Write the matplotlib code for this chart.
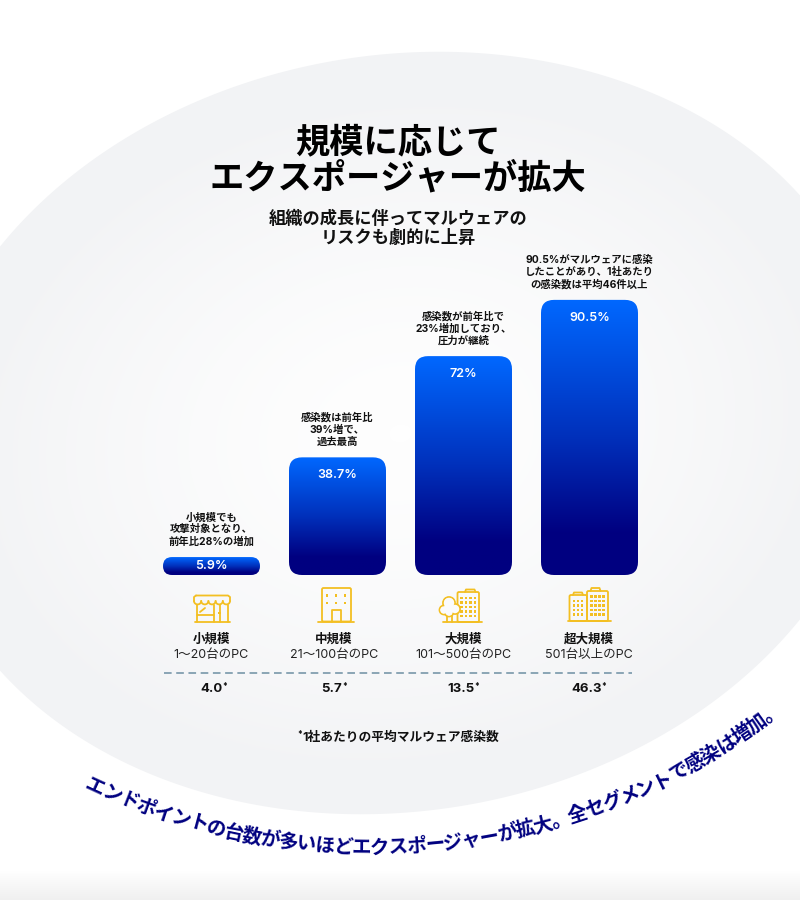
import numpy as np
import matplotlib.pyplot as plt
from matplotlib.colors import LinearSegmentedColormap
from matplotlib.patches import Polygon, FancyBboxPatch, Rectangle, Circle

plt.rcParams['font.family'] = ['Inter', 'Noto Sans CJK JP', 'DejaVu Sans']

# Chart data
segments = ['小規模', '中規模', '大規模', '超大規模']
pc_ranges = ['1～20台のPC', '21～100台のPC', '101～500台のPC', '501台以上のPC']
infected_pct = [5.9, 38.7, 72, 90.5]
pct_labels = ['5.9%', '38.7%', '72%', '90.5%']
avg_infections = ['4.0', '5.7', '13.5', '46.3']
notes = [
    '小規模でも\n攻撃対象となり、\n前年比28%の増加',
    '感染数は前年比\n39%増で、\n過去最高',
    '感染数が前年比で\n23%増加しており、\n圧力が継続',
    '90.5%がマルウェアに感染\nしたことがあり、1社あたり\nの感染数は平均46件以上',
]
title = '規模に応じて\nエクスポージャーが拡大'
subtitle = '組織の成長に伴ってマルウェアの\nリスクも劇的に上昇'
footnote = '1社あたりの平均マルウェア感染数'
curve_text = 'エンドポイントの台数が多いほどエクスポージャーが拡大。全セグメントで感染は増加。'

NAVY = '#000080'
YELLOW = '#f3bf22'

fig = plt.figure(figsize=(8, 9), dpi=100, facecolor='white')

# Pixel axes for the background, icons and text
deco = fig.add_axes([0, 0, 1, 1], zorder=0)
deco.axis('off')

# Background blob: a slightly tilted ellipse with soft radial shading
yy, xx = np.mgrid[0:900, 0:800]
dist = np.sqrt(((xx - 400) / 482) ** 2 + ((yy - 433 + 0.064 * (xx - 400)) / 380) ** 2)
shade = np.clip(dist * 1.1, 0, 1) ** 1.5
bg_cmap = LinearSegmentedColormap.from_list('bg', ['#fefefe', '#f2f3f5'])
t = np.linspace(0, 2 * np.pi, 400)
blob = Polygon(np.column_stack([400 + 482 * np.cos(t),
                                433 + 380 * np.sin(t) - 0.064 * 482 * np.cos(t)]),
               facecolor='none', edgecolor='none')
deco.add_patch(blob)
im = deco.imshow(shade, extent=[0, 800, 900, 0], cmap=bg_cmap, vmin=0, vmax=1, aspect='auto')
im.set_clip_path(blob)

# Grey fade at the very bottom
fade = np.linspace(0, 1, 30).reshape(-1, 1)
fade_cmap = LinearSegmentedColormap.from_list('fade', ['#ffffff', '#f0f0f0'])
deco.imshow(fade, extent=[0, 800, 900, 870], cmap=fade_cmap, aspect='auto')
deco.set_xlim(0, 800)
deco.set_ylim(900, 0)

# Bars: one category step is 126 px, one percent is 3.04 px, baseline at y=575
ax = fig.add_axes([0, 0, 1, 1], zorder=1)
ax.patch.set_alpha(0)
ax.axis('off')
step_px = 126
pct_px = 3.04
bar_w = 97 / step_px
bar_cmap = LinearSegmentedColormap.from_list(
    'bar', [(0, '#0068ff'), (0.5, '#0030bb'), (0.85, NAVY), (1, NAVY)], N=256)
gradient = np.linspace(0, 1, 256).reshape(-1, 1)

for i, v in enumerate(infected_pct):
    h_px = v * pct_px
    radius_px = min(13, h_px / 2)
    bar = FancyBboxPatch((i - bar_w / 2, 0), bar_w, v,
                         boxstyle=f'round,pad=0,rounding_size={radius_px / step_px}',
                         mutation_aspect=step_px / pct_px,
                         facecolor='none', edgecolor='none')
    ax.add_patch(bar)
    img = ax.imshow(gradient, extent=[i - bar_w / 2, i + bar_w / 2, 0, v],
                    cmap=bar_cmap, aspect='auto', origin='upper')
    img.set_clip_path(bar)

    ax.annotate(pct_labels[i], xy=(i, v), xytext=(0, -min(18, h_px / 2) * 0.72),
                textcoords='offset points', ha='center', va='center',
                color='white', fontsize=9, fontweight='semibold')
    ax.annotate(notes[i], xy=(i, v), xytext=(0, 7.5), textcoords='offset points',
                ha='center', va='bottom', fontsize=7.45, fontweight='bold',
                color='#111111', linespacing=1.22)

ax.set_xlim(-211.5 / step_px, (800 - 211.5) / step_px)
ax.set_ylim(-(900 - 575) / pct_px, 575 / pct_px)


# Icons
def line(xs, ys):
    deco.plot(xs, ys, color=YELLOW, lw=1.3, solid_capstyle='round', zorder=3)


def box(x0, y0, x1, y1, rounded=1.5):
    deco.add_patch(FancyBboxPatch((x0, y0), x1 - x0, y1 - y0,
                                  boxstyle=f'round,pad=0,rounding_size={rounded}',
                                  facecolor='none', edgecolor=YELLOW, lw=1.3, zorder=3))


def dots(xs, ys, size=2.4):
    for x in xs:
        for y in ys:
            deco.add_patch(Rectangle((x - size / 2, y - size / 2), size, size,
                                     facecolor=YELLOW, edgecolor='none', zorder=3))


# shop
line([196, 228, 230, 230], [595.5, 595.5, 597, 601])
line([196, 194, 194], [595.5, 597, 601])
arc = np.linspace(0, np.pi, 20)
for cx in np.linspace(197.6, 226.4, 5):
    line(cx + 3.6 * np.cos(arc), 601 + 3.4 * np.sin(arc))
line([196.5, 196.5], [605, 621.5])
line([227.5, 227.5], [605, 621.5])
line([194.5, 229.5], [621.5, 621.5])
line([213.5, 213.5], [605, 621.5])
line([196.5, 213.5], [614.5, 614.5])
line([219.5, 219.5], [605, 621.5])
line([200, 205], [612, 608])
dots([219.5], [613], 2.8)

# office
box(322, 588, 351, 621.5)
line([318, 354], [621.5, 621.5])
dots([327, 336, 345], [595.5, 603])
line([332, 332, 341, 341], [621.5, 610, 610, 621.5])

# tree and tower
box(457.5, 592, 479, 622)
line([465, 466, 474.5, 475.5], [592, 589.5, 589.5, 592])
dots([461.5, 466, 470.5, 475], [598, 602.5, 607, 611.5, 616])
for cx, cy, r in [(449, 603, 6), (444, 610, 4.5), (455, 609, 5), (449, 612, 4.5)]:
    deco.add_patch(Circle((cx, cy), r, facecolor='none', edgecolor=YELLOW, lw=1.3, zorder=3))
for cx, cy, r in [(449, 603, 5.2), (444, 610, 3.7), (455, 609, 4.2), (449, 612, 3.7), (449, 608, 5)]:
    deco.add_patch(Circle((cx, cy), r, facecolor='#fbfbfc', edgecolor='none', zorder=4))
line([447, 447], [616, 622])
line([451.5, 451.5], [616, 622])
line([443, 482], [622, 622])

# two towers
box(587, 591, 608, 621)
line([590.5, 591.5, 599.5, 600.5], [591, 588, 588, 591])
dots([591.5, 595.5, 599.5, 603.5], [596.5, 601, 605.5, 610, 614.5])
box(569.5, 595, 587, 621)
line([573, 574, 582, 583], [595, 592.5, 592.5, 595])
dots([574, 578, 582], [601, 605.5, 610, 614.5])
line([567.5, 610.5], [621, 621])

# Labels under the bars
label_x = [211.5, 334, 463, 589]
for i, x in enumerate(label_x):
    deco.text(x, 640, segments[i], ha='center', va='center', fontsize=9, fontweight='bold', color='#111111')
    deco.text(x, 655, pc_ranges[i], ha='center', va='center', fontsize=9, color='#222222')

value_x = [211.5, 332, 460.5, 586.5]
for i, x in enumerate(value_x):
    val = deco.text(x, 689, avg_infections[i], ha='center', va='center',
                    fontsize=9.5, fontweight='bold', color='#111111')
    deco.annotate('*', xy=(1, 1), xycoords=val, xytext=(0, -4), textcoords='offset points',
                  fontsize=6, fontweight='bold', color='#111111')

deco.plot([164, 632], [673, 673], color='#6d8fa3', lw=1.1, dashes=(5, 3))

# Titles
deco.text(398, 161, title, ha='center', va='center', fontsize=24.7, fontweight='bold',
          color='black', linespacing=1.08)
deco.text(398.5, 229, subtitle, ha='center', va='center', fontsize=12.4, fontweight='bold',
          color='#111111', linespacing=1.15)

note = deco.text(401, 738, footnote, ha='center', va='center', fontsize=9.2,
                 fontweight='bold', color='#111111')
deco.annotate('*', xy=(0, 1), xycoords=note, xytext=(-3.5, -4), textcoords='offset points',
              fontsize=6, fontweight='bold', color='#111111')

# Text along the arc, one glyph at a time
cx, cy, radius = 371, 185, 663
angles = np.linspace(-24.6, 37.2, len(curve_text))
for ch, a in zip(curve_text, angles):
    rad = np.deg2rad(a)
    deco.text(cx + radius * np.sin(rad), cy + radius * np.cos(rad), ch,
              rotation=a, rotation_mode='anchor', ha='center', va='center',
              fontsize=14, fontweight='bold', color=NAVY,
              family=['Noto Sans CJK JP', 'DejaVu Sans'])

fig.savefig('out.png', dpi=100)
